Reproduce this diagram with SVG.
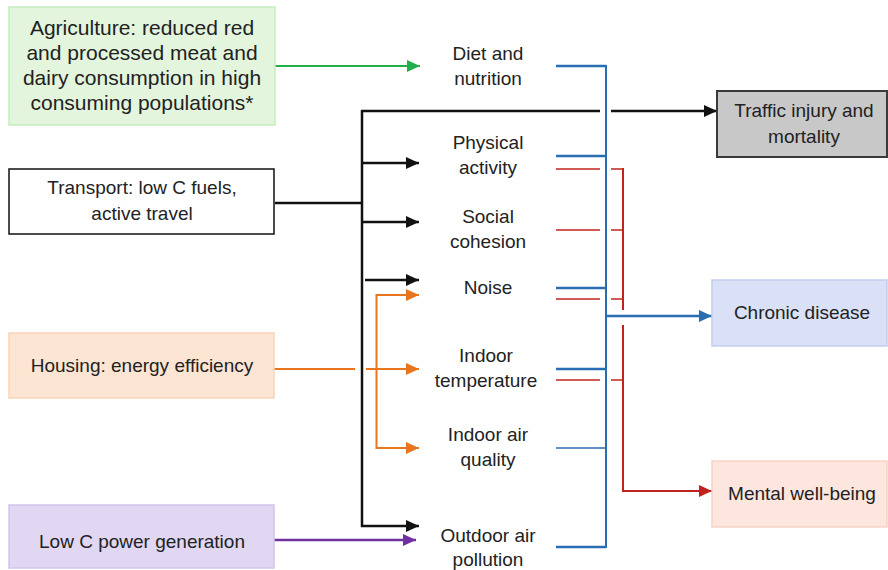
<svg xmlns="http://www.w3.org/2000/svg" width="888" height="570" viewBox="0 0 888 570">
<style>
text{font-family:"Liberation Sans",Arial,sans-serif;font-size:19px;fill:#222;text-anchor:middle}
.agri{font-size:21px}
.k{stroke:#111;stroke-width:2.5;fill:none}
.b{stroke:#2b6db3;stroke-width:2.5;fill:none}
.bt{stroke:#2b6db3;stroke-width:1.5;fill:none}
.r{stroke:#c0231c;stroke-width:1.5;fill:none}
.rv{stroke:#c0231c;stroke-width:2;fill:none}
.o{stroke:#e8761f;stroke-width:2;fill:none}
</style>
<defs>
<marker id="ak" markerUnits="userSpaceOnUse" markerWidth="14" markerHeight="12" refX="13" refY="6" orient="auto"><path d="M0,0 L13,6 L0,12 Z" fill="#111"/></marker>
<marker id="ag" markerUnits="userSpaceOnUse" markerWidth="14" markerHeight="12" refX="13" refY="6" orient="auto"><path d="M0,0 L13,6 L0,12 Z" fill="#1fb04b"/></marker>
<marker id="ao" markerUnits="userSpaceOnUse" markerWidth="14" markerHeight="12" refX="13" refY="6" orient="auto"><path d="M0,0 L13,6 L0,12 Z" fill="#e8761f"/></marker>
<marker id="ap" markerUnits="userSpaceOnUse" markerWidth="14" markerHeight="12" refX="13" refY="6" orient="auto"><path d="M0,0 L13,6 L0,12 Z" fill="#7030a0"/></marker>
<marker id="ab" markerUnits="userSpaceOnUse" markerWidth="14" markerHeight="12" refX="13" refY="6" orient="auto"><path d="M0,0 L13,6 L0,12 Z" fill="#2b6db3"/></marker>
<marker id="ar" markerUnits="userSpaceOnUse" markerWidth="14" markerHeight="12" refX="13" refY="6" orient="auto"><path d="M0,0 L13,6 L0,12 Z" fill="#c0231c"/></marker>
</defs>

<g id="connectors">
<!-- green -->
<line x1="275" y1="66" x2="420" y2="66" stroke="#1fb04b" stroke-width="2" marker-end="url(#ag)"/>
<!-- black transport -->
<line class="k" x1="275" y1="203" x2="362" y2="203"/>
<line class="k" x1="362" y1="110" x2="362" y2="527"/>
<line class="k" x1="361" y1="111" x2="600" y2="111"/>
<line class="k" x1="611" y1="111" x2="717" y2="111" marker-end="url(#ak)"/>
<line class="k" x1="362" y1="163" x2="419" y2="163" marker-end="url(#ak)"/>
<line class="k" x1="362" y1="222" x2="419" y2="222" marker-end="url(#ak)"/>
<line class="k" x1="365" y1="280" x2="419" y2="280" marker-end="url(#ak)"/>
<line class="k" x1="361" y1="526" x2="419" y2="526" marker-end="url(#ak)"/>
<!-- orange housing -->
<line class="o" x1="274" y1="369" x2="355" y2="369"/>
<line class="o" x1="366" y1="369" x2="419" y2="369" marker-end="url(#ao)"/>
<path class="o" d="M419,295 H376.5 V448 H419" stroke-width="2"/>
<line class="o" x1="400" y1="295" x2="419" y2="295" marker-end="url(#ao)"/>
<line class="o" x1="400" y1="448" x2="419" y2="448" marker-end="url(#ao)"/>
<!-- purple -->
<line x1="274" y1="540" x2="416" y2="540" stroke="#7030a0" stroke-width="2.5" marker-end="url(#ap)"/>
<!-- blue -->
<line class="b" x1="556" y1="66" x2="606" y2="66"/>
<line class="b" x1="556" y1="156" x2="606" y2="156"/>
<line class="b" x1="556" y1="288" x2="606" y2="288"/>
<line class="b" x1="556" y1="369" x2="606" y2="369"/>
<line class="bt" x1="556" y1="448" x2="606" y2="448"/>
<line class="b" x1="556" y1="547" x2="606" y2="547"/>
<line x1="606" y1="65" x2="606" y2="548" stroke="#2b6db3" stroke-width="2"/>
<line class="b" x1="606" y1="316" x2="712" y2="316" marker-end="url(#ab)"/>
<!-- red -->
<line class="r" x1="556" y1="169" x2="600" y2="169"/>
<line class="r" x1="611" y1="169" x2="623" y2="169"/>
<line class="r" x1="556" y1="230" x2="600" y2="230"/>
<line class="r" x1="611" y1="230" x2="623" y2="230"/>
<line class="r" x1="556" y1="299" x2="600" y2="299"/>
<line class="r" x1="611" y1="299" x2="623" y2="299"/>
<line class="r" x1="556" y1="380" x2="600" y2="380"/>
<line class="r" x1="611" y1="380" x2="623" y2="380"/>
<line class="rv" x1="623" y1="168" x2="623" y2="310"/>
<path class="rv" d="M623,325 V491 H712" stroke-width="2.5" marker-end="url(#ar)"/>
</g>

<g id="agriculture">
<rect x="9" y="7" width="266" height="118" fill="#e3f5dd" stroke="#c6ebbd" stroke-width="1.5"/>
<text class="agri" x="142" y="35">Agriculture: reduced red</text>
<text class="agri" x="142" y="60">and processed meat and</text>
<text class="agri" x="142" y="85">dairy consumption in high</text>
<text class="agri" x="142" y="110">consuming populations*</text>
</g>
<g id="transport">
<rect x="9" y="169" width="265" height="65" fill="#fff" stroke="#111" stroke-width="1.5"/>
<text x="142" y="194">Transport: low C fuels,</text>
<text x="142" y="220">active travel</text>
</g>
<g id="housing">
<rect x="9" y="333" width="265" height="65" fill="#fde5d3" stroke="#fad3b6" stroke-width="1.5"/>
<text x="142" y="372">Housing: energy efficiency</text>
</g>
<g id="power">
<rect x="9" y="505" width="265" height="63" fill="#e1d7f2" stroke="#d2c4ec" stroke-width="1.5"/>
<text x="142" y="548">Low C power generation</text>
</g>

<g id="diet"><text x="488" y="60">Diet and</text><text x="488" y="85">nutrition</text></g>
<g id="physical"><text x="488" y="149">Physical</text><text x="488" y="174">activity</text></g>
<g id="social"><text x="488" y="223">Social</text><text x="488" y="248">cohesion</text></g>
<g id="noise"><text x="488" y="294">Noise</text></g>
<g id="indoortemp"><text x="486" y="362">Indoor</text><text x="486" y="387">temperature</text></g>
<g id="indoorair"><text x="488" y="441">Indoor air</text><text x="488" y="466">quality</text></g>
<g id="outdoor"><text x="488" y="542">Outdoor air</text><text x="488" y="566">pollution</text></g>

<g id="traffic">
<rect x="717" y="91" width="170" height="66" fill="#c8c8c8" stroke="#3a3a3a" stroke-width="2"/>
<text x="804" y="117">Traffic injury and</text>
<text x="804" y="143">mortality</text>
</g>
<g id="chronic">
<rect x="712" y="280" width="175" height="66" fill="#dae1f6" stroke="#c2cdf0" stroke-width="1.5"/>
<text x="802" y="319">Chronic disease</text>
</g>
<g id="mental">
<rect x="712" y="461" width="175" height="66" fill="#fce6dd" stroke="#f7d3c5" stroke-width="1.5"/>
<text x="802" y="500">Mental well-being</text>
</g>
</svg>
